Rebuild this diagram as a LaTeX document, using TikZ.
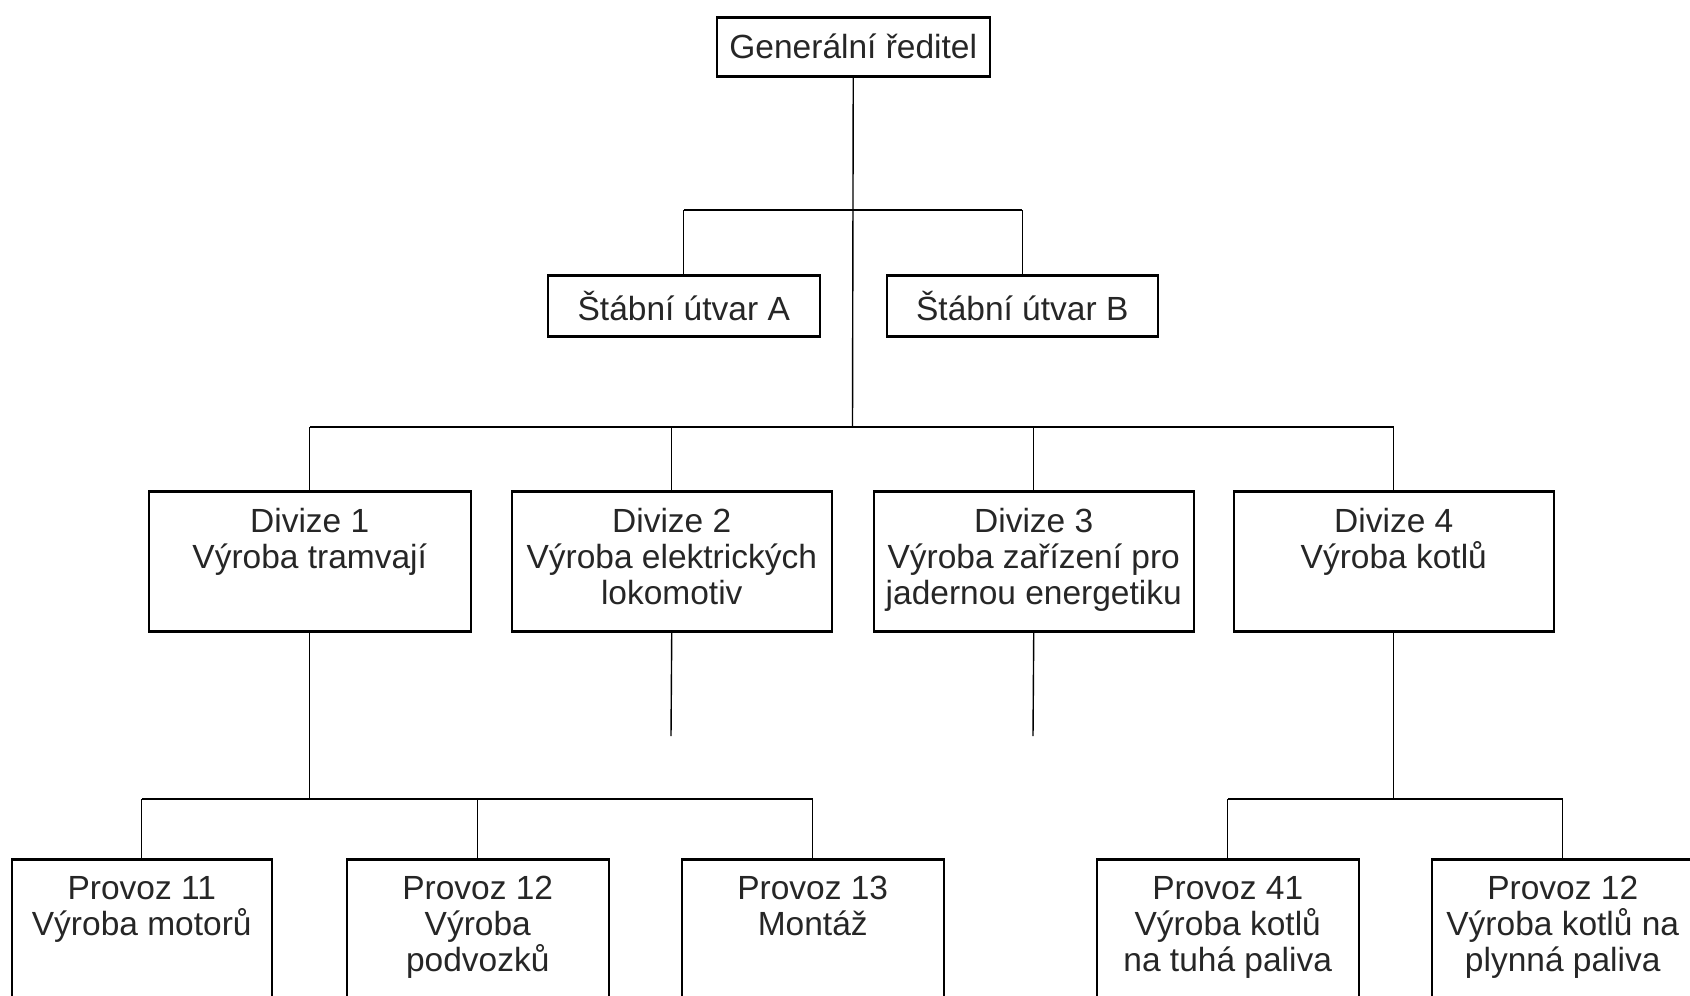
\documentclass[tikz,border=0pt]{standalone}
\usepackage{fontspec}
\setmainfont{Liberation Sans}
\begin{document}
\begin{tikzpicture}[x=1pt,y=-1pt,
  box/.style={draw, line width=1.5pt, inner sep=0pt, anchor=north west},
  txt/.style={font=\fontsize{33.5}{36}\selectfont, align=center, text=black!85},
  top/.style={label={[txt, anchor=north, inner sep=0pt, yshift=-17pt]north:#1}},
  conn/.style={line width=1.4pt},
  bar/.style={line width=2.8pt}]
\useasboundingbox (0,0) rectangle (1690,996);
\clip (0,0) rectangle (1690,996);
% top level
\node[box, txt, minimum width=273pt, minimum height=58pt] (g) at (716,17) {Generální ředitel};
\node[box, txt, minimum width=272pt, minimum height=60pt] (sa) at (547,275) {Štábní útvar A};
\node[box, txt, minimum width=271pt, minimum height=60pt] (sb) at (886,275) {Štábní útvar B};
% divisions
\node[box, minimum width=322pt, minimum height=139pt, top={Divize 1\\Výroba tramvají}] (d1) at (148,491) {};
\node[box, minimum width=320pt, minimum height=139pt, top={Divize 2\\Výroba elektrických\\lokomotiv}] (d2) at (511,491) {};
\node[box, minimum width=320pt, minimum height=139pt, top={Divize 3\\Výroba zařízení pro\\jadernou energetiku}] (d3) at (873,491) {};
\node[box, minimum width=320pt, minimum height=139pt, top={Divize 4\\Výroba kotlů}] (d4) at (1233,491) {};
% plants
\node[box, minimum width=260pt, minimum height=200pt, top={Provoz 11\\Výroba motorů}] (p11) at (11,859) {};
\node[box, minimum width=262pt, minimum height=200pt, top={Provoz 12\\Výroba\\podvozků}] (p12) at (346,859) {};
\node[box, minimum width=262pt, minimum height=200pt, top={Provoz 13\\Montáž}] (p13) at (681,859) {};
\node[box, minimum width=262pt, minimum height=200pt, top={Provoz 41\\Výroba kotlů\\na tuhá paliva}] (p41) at (1096,859) {};
\node[box, minimum width=262pt, minimum height=200pt, top={Provoz 12\\Výroba kotlů na\\plynná paliva}] (p42) at (1431,859) {};
% heavier horizontal edges
\foreach \n in {g,sa,sb,d1,d2,d3,d4,p11,p12,p13,p41,p42}{
  \draw[bar] (\n.north west) -- (\n.north east);
  \draw[bar] (\n.south west) -- (\n.south east);
}
% connectors
\coordinate (sbar) at (852.5,210);
\coordinate (dbar) at (852.5,427);
\coordinate (p1bar) at (310,799);
\coordinate (p4bar) at (1395,799);
\coordinate (e2) at (671,736);
\coordinate (e3) at (1033,736);
\draw[conn] (g.south) -- (dbar);
\draw[bar] (sa.north |- sbar) -- (sb.north |- sbar);
\draw[conn] (sa.north |- sbar) -- (sa.north);
\draw[conn] (sb.north |- sbar) -- (sb.north);
\draw[bar] (d1.north |- dbar) -- (d4.north |- dbar);
\foreach \n in {d1,d2,d3,d4} \draw[conn] (\n.north |- dbar) -- (\n.north);
\draw[conn] (d2.south) -- (e2);
\draw[conn] (d3.south) -- (e3);
\draw[conn] (d1.south) -- (d1.south |- p1bar);
\draw[bar] (p11.north |- p1bar) -- (p13.north |- p1bar);
\foreach \n in {p11,p12,p13} \draw[conn] (\n.north |- p1bar) -- (\n.north);
\draw[conn] (d4.south) -- (d4.south |- p4bar);
\draw[bar] (p41.north |- p4bar) -- (p42.north |- p4bar);
\foreach \n in {p41,p42} \draw[conn] (\n.north |- p4bar) -- (\n.north);
\end{tikzpicture}
\end{document}
